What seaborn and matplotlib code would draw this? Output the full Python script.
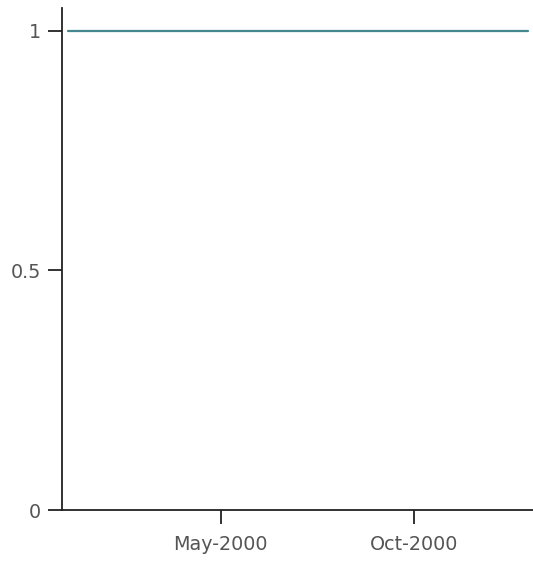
import matplotlib

matplotlib.use("Agg")
import matplotlib.dates as mdates
import matplotlib.pyplot as plt
import pandas as pd
import seaborn as sns

dates = ["2000-01-01", "2000-04-10", "2000-07-18", "2000-12-31"]
values = [1, 1, 1, 1]
y_ticks = [0, 0.5, 1]
y_labels = ["0", "0.5", "1"]
x_ticks = ["2000-05-01", "2000-10-01"]

sns.set_theme(style="ticks")
plt.rcParams["font.family"] = ["DejaVu Sans"]

df = pd.DataFrame({"date": pd.to_datetime(dates), "value": values})

fig = plt.figure(figsize=(5.33, 5.64), dpi=100)
ax = fig.add_axes([62 / 533, 54 / 564, 471 / 533, 502 / 564])
sns.lineplot(data=df, x="date", y="value", color="#45878f", linewidth=1.6, ax=ax)

ax.set_xlim(pd.Timestamp("1999-12-27 05:00"), pd.Timestamp("2001-01-03 15:00"))
ax.set_ylim(0, 1.048)
ax.set_yticks(y_ticks)
ax.set_yticklabels(y_labels)
ax.set_xticks(pd.to_datetime(x_ticks))
ax.xaxis.set_major_formatter(mdates.DateFormatter("%b-%Y"))
ax.set_xlabel("")
ax.set_ylabel("")

for side in ["top", "right"]:
    ax.spines[side].set_visible(False)
for side in ["left", "bottom"]:
    ax.spines[side].set_linewidth(1.3)
    ax.spines[side].set_color("#222222")
ax.tick_params(axis="both", length=10, width=1.3, color="#222222",
               labelsize=13.8, labelcolor="#555555", pad=5)
ax.tick_params(axis="x", pad=8)
ax.grid(False)

fig.savefig("out.png", dpi=100)
